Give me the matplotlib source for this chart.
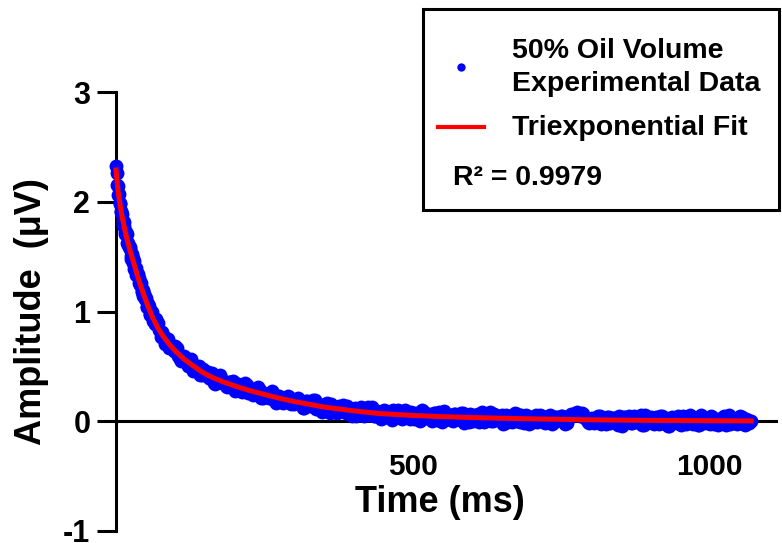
import matplotlib
matplotlib.use("Agg")
import matplotlib.pyplot as plt
from matplotlib.patches import Rectangle
from matplotlib.lines import Line2D

plt.rcParams['font.family'] = ['Liberation Sans', 'DejaVu Sans']
plt.rcParams['font.weight'] = 'bold'
plt.rcParams['axes.unicode_minus'] = False

# sample times (ms): 1 ms steps early, then 2 ms, then 5 ms,
# plus a second interleaved pass of samples
time_early = list(range(0, 10, 1))
time_mid = list(range(10, 60, 2))
time_mid2 = list(range(11, 60, 2))
time_late = list(range(60, 1075, 5))
time_late2 = list(range(62, 1072, 5))

amp_early = [2.33, 2.26, 2.15, 2.14, 2.06, 2.07, 1.98, 1.99, 1.92, 1.91]
amp_mid = [1.89, 1.79, 1.775, 1.71, 1.705, 1.61, 1.59, 1.57, 1.48, 1.485,
           1.46, 1.39, 1.335, 1.35, 1.305, 1.24, 1.26, 1.185, 1.145, 1.155,
           1.105, 1.045, 1.065, 1.03, 0.97]
amp_mid2 = [1.825, 1.82, 1.73, 1.72, 1.62, 1.62, 1.59, 1.51, 1.52, 1.445,
            1.39, 1.40, 1.345, 1.34, 1.26, 1.255, 1.18, 1.20, 1.16, 1.11,
            1.12, 1.04, 1.05, 0.975, 0.99]
amp_late = [
    0.995, 0.89, 0.895, 0.77, 0.78, 0.755, 0.67, 0.67, 0.69, 0.595,
    0.55, 0.595, 0.555, 0.515, 0.455, 0.505, 0.507, 0.419, 0.433, 0.448,
    0.385, 0.353, 0.392, 0.421, 0.35, 0.32, 0.36, 0.331, 0.272, 0.343,
    0.315, 0.277, 0.329, 0.27, 0.243, 0.285, 0.308, 0.211, 0.244, 0.247,
    0.211, 0.254, 0.167, 0.23, 0.214, 0.188, 0.232, 0.156, 0.16,
    # 305 ms on
    0.205, 0.18, 0.125, 0.18, 0.145, 0.15, 0.195, 0.11, 0.115, 0.15,
    0.166, 0.073, 0.129, 0.106, 0.142, 0.089, 0.105, 0.142, 0.068, 0.115,
    0.052, 0.099, 0.116, 0.063, 0.13, 0.067, 0.045, 0.092, 0.07, 0.028,
    0.097, 0.075, 0.014, 0.082, 0.101, 0.039, 0.048, 0.086, 0.025, 0.053,
    # 505 ms on
    0.071, 0.01, 0.099, 0.038, 0.057, 0.026, 0.075, 0.014, 0.083, -0.008,
    0.061, 0.04, 0.009, 0.068, 0.048, 0.017, 0.076, 0.025, -0.005, 0.054,
    0.013, 0.062, 0.042, -0.009, 0.05, 0.08, -0.001, 0.028, 0.018, 0.057,
    -0.013, 0.046, 0.036, 0.005, 0.065, -0.006, 0.013, 0.053, -0.028, 0.042,
    # 705 ms on
    0.031, -0.009, 0.06, 0.0, 0.019, 0.049, -0.022, 0.038, 0.007, 0.047,
    0.026, -0.014, 0.035, 0.065, 0.075, 0.054, 0.074, 0.034, -0.007, 0.023,
    -0.018, 0.032, 0.052, 0.002, -0.028, 0.042, 0.012, 0.032, -0.038, 0.021,
    0.041, -0.01, 0.05, -0.02, 0.0, 0.03, 0.06, -0.031, 0.009, 0.018,
    # 905 ms on
    -0.012, 0.038, -0.022, 0.048, -0.002, -0.043, 0.028, 0.018, -0.013, 0.036,
    0.046, -0.024, 0.006, -0.004, 0.026, -0.034, 0.056, -0.014, 0.016, -0.025,
    0.035, 0.005, -0.035, 0.025, 0.045, -0.005, -0.025, 0.025, 0.015, -0.015,
    0.035, -0.035, 0.015, 0.004,
]
amp_late2 = [
    0.913, 0.928, 0.827, 0.814, 0.706, 0.751, 0.698, 0.638, 0.67, 0.565,
    0.58, 0.577, 0.507, 0.567, 0.487, 0.488, 0.42, 0.473, 0.447, 0.393,
    0.44, 0.339, 0.378, 0.397, 0.346, 0.316, 0.356, 0.367, 0.298, 0.32,
    0.262, 0.344, 0.256, 0.277, 0.29, 0.252, 0.285, 0.208, 0.251, 0.215,
    0.278, 0.191, 0.234, 0.208, 0.162, 0.206, 0.22, 0.164, 0.168, 0.213,
    # 312 ms on
    0.188, 0.123, 0.188, 0.143, 0.198, 0.113, 0.148, 0.083, 0.159, 0.125,
    0.161, 0.098, 0.074, 0.131, 0.147, 0.074, 0.11, 0.047, 0.124, 0.081,
    0.128, 0.045, 0.102, 0.059, 0.126, 0.044, 0.071, 0.019, 0.098, 0.076,
    0.035, 0.103, 0.042, 0.08, 0.019, 0.107, 0.046, 0.084, 0.022, 0.061,
    # 512 ms on
    0.0, 0.089, 0.028, 0.067, 0.006, 0.075, 0.044, 0.013, 0.092, 0.031,
    0.06, -0.001, 0.068, 0.018, 0.077, -0.014, 0.045, 0.065, 0.004, 0.053,
    -0.008, 0.082, 0.011, 0.04, 0.0, 0.069, 0.018, 0.048, -0.023, 0.057,
    0.026, -0.004, 0.075, 0.005, 0.054, -0.017, 0.043, 0.032, -0.008, 0.061,
    # 712 ms on
    0.001, 0.05, -0.02, 0.029, 0.059, -0.012, 0.038, 0.007, 0.047, -0.024,
    0.036, 0.065, 0.055, 0.085, 0.044, 0.064, 0.024, -0.017, 0.033, -0.008,
    0.052, -0.028, 0.022, 0.042, -0.019, 0.031, 0.001, 0.051, -0.039, 0.04,
    0.01, -0.02, 0.05, -0.01, 0.029, -0.031, 0.059, -0.002, 0.038, -0.022,
    # 912 ms on
    0.018, 0.048, -0.013, 0.027, -0.043, 0.037, -0.003, 0.046, -0.034, 0.026,
    -0.014, 0.056, -0.024, 0.016, -0.035, 0.035, 0.005, -0.015, 0.045, -0.025,
    0.025, -0.005, 0.035, -0.036, 0.054, -0.016, 0.014, -0.026, 0.044, -0.006,
    0.023, -0.017,
]

assert len(time_late) == len(amp_late) and len(time_late2) == len(amp_late2)

time_ms = time_early + time_mid + time_mid2 + time_late + time_late2
amplitude = amp_early + amp_mid + amp_mid2 + amp_late + amp_late2

# triexponential fit
fit_time = [0, 3, 6, 10, 15, 20, 25, 30, 37, 45, 53, 60, 70, 80, 90, 100,
            115, 130, 146, 160, 180, 202, 225, 253, 275, 300, 350, 400, 444,
            500, 550, 600, 646, 700, 800, 900, 1000, 1070]
fit_amp = [2.29, 2.12, 2.0, 1.87, 1.74, 1.63, 1.53, 1.44, 1.31, 1.18, 1.06,
           0.965, 0.855, 0.77, 0.70, 0.64, 0.565, 0.505, 0.445, 0.405, 0.36,
           0.318, 0.28, 0.24, 0.21, 0.18, 0.13, 0.095, 0.07, 0.053, 0.042,
           0.034, 0.028, 0.022, 0.013, 0.008, 0.005, 0.003]

y_ticks = [-1, 0, 1, 2, 3]
x_ticks = [500, 1000]

fig = plt.figure(figsize=(7.82, 5.43), dpi=100)
ax = fig.add_axes([116 / 782, 12 / 543, 660 / 782, 439 / 543])

ax.plot(time_ms, amplitude, 'o', color='#0000ff', markersize=10,
        markeredgewidth=0, zorder=3, clip_on=False)
ax.plot(fit_time, fit_amp, '-', color='#ff0000', linewidth=3.6,
        zorder=4, clip_on=False)

ax.set_xlim(0, 1112)
ax.set_ylim(-1, 3)
ax.set_yticks(y_ticks)
ax.set_xticks(x_ticks)

ax.spines['left'].set_position(('data', 0))
ax.spines['bottom'].set_position(('data', 0))
ax.spines['top'].set_visible(False)
ax.spines['right'].set_visible(False)
for s in ('left', 'bottom'):
    ax.spines[s].set_linewidth(2.2)
    ax.spines[s].set_zorder(1)

ax.tick_params(axis='y', length=13.5, width=2.2, pad=5, labelsize=22)
ax.tick_params(axis='x', length=0, pad=23, labelsize=21.5)
for lab in ax.get_xticklabels() + ax.get_yticklabels():
    lab.set_fontweight('bold')

ax.set_xlabel('Time (ms)', fontsize=26, fontweight='bold')
ax.xaxis.set_label_coords(0.491, 0.104)
ax.set_ylabel('Amplitude  (\u03bcV)', fontsize=26, fontweight='bold')
ax.yaxis.set_label_coords(-0.102, 0.5)

# legend box drawn by hand
def fy(px):
    return 1 - px / 543

fig.add_artist(Rectangle((422.7 / 782, fy(210)), (779 - 422.7) / 782,
                         (210 - 9.3) / 543, transform=fig.transFigure,
                         fill=False, edgecolor='black', linewidth=2.2))
fig.add_artist(Line2D([460.7 / 782], [fy(66.7)], marker='o', color='#0000ff',
                      markersize=6, markeredgewidth=0, linestyle='none',
                      transform=fig.transFigure))
fig.add_artist(Line2D([438 / 782, 484 / 782], [fy(126.7), fy(126.7)],
                      color='#ff0000', linewidth=3, transform=fig.transFigure))
fig.text(511.7 / 782, fy(58), '50% Oil Volume', fontsize=20.5,
         fontweight='bold', va='baseline')
fig.text(511.7 / 782, fy(90.7), 'Experimental Data', fontsize=20.5,
         fontweight='bold', va='baseline')
fig.text(511.7 / 782, fy(135), 'Triexponential Fit', fontsize=20.5,
         fontweight='bold', va='baseline')
fig.text(453 / 782, fy(185), 'R\u00b2 = 0.9979', fontsize=20.5,
         fontweight='bold', va='baseline')

fig.savefig('out.png', dpi=100)
